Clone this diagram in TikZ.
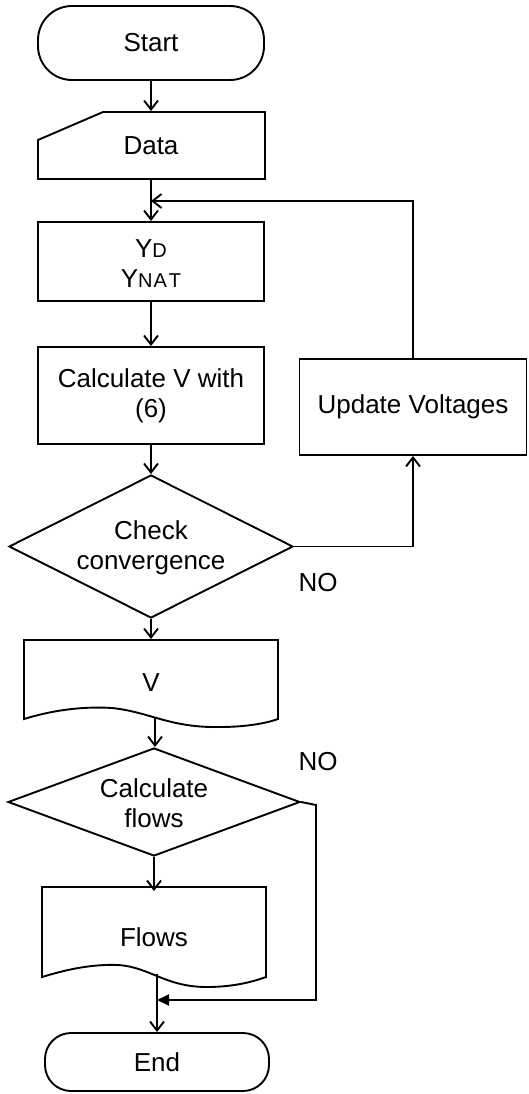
\documentclass[tikz,border=0pt]{standalone}
\usepackage{fontspec}
\setmainfont{Liberation Sans}
\usetikzlibrary{arrows.meta,shapes.geometric}
\begin{document}
\begin{tikzpicture}[x=1pt,y=-1pt,line width=1.9pt,line join=miter,
  font=\fontsize{26}{30}\selectfont,
  box/.style={draw,rectangle,inner sep=0pt},
  term/.style={draw,rectangle,inner sep=0pt},
  dec/.style={draw,diamond,inner sep=0pt},
  txt/.style={align=center,inner sep=0pt},
  arr/.style={-{Straight Barb[length=9pt,width=14pt]}},
  tri/.style={-{Triangle[length=12pt,width=11pt]}}]
\useasboundingbox (0,0) rectangle (528,1094);
% Start
\node[term,rounded corners=34pt,minimum width=226pt,minimum height=74pt] (start) at (151,43) {Start};
% Data (manual input)
\draw (38,140) -- (103,112) -- (265,112) -- (265,179) -- (38,179) -- cycle;
\node[txt,minimum width=227pt,minimum height=67pt] (data) at (151,145.5) {Data};
% Yd box
\node[box,minimum width=226pt,minimum height=79pt] (yd) at (151,261.5) {};
\node[txt] (ydt) at (151,264) {Y{\fontsize{20}{30}\selectfont D}\\Y{\fontsize{20}{30}\selectfont N\kern1pt A\kern2pt T}};
% Calculate box
\node[box,minimum width=226pt,minimum height=97pt] (calc) at (151,395.5) {};
\node[txt] (calct) at (151,396) {Calculate V with\\(6)};
% Update Voltages
\node[box,minimum width=227pt,minimum height=96pt] (upd) at (413,407) {Update Voltages};
% Decision 1
\node[dec,minimum width=284pt,minimum height=143pt] (d1) at (151,546.5) {};
\node[txt] (d1t) at (151,548) {Check\\convergence};
\node[txt] (no1) at (318,583) {NO};
% V document
\draw (24,640) -- (24,719) .. controls (50,711) and (80,706) .. (112,708)
  .. controls (150,712) and (170,728) .. (220,727)
  .. controls (250,727) and (270,722) .. (278,719) -- (278,640) -- cycle;
\node[txt,minimum width=254pt,minimum height=86pt] (v) at (151,683) {V};
\coordinate (vb) at (155,717);
% Decision 2
\node[dec,minimum width=292pt,minimum height=108pt] (d2) at (154,802) {};
\node[txt] (d2t) at (154,803) {Calculate\\flows};
\node[txt] (no2) at (318,762) {NO};
% Flows document
\draw (42,887) -- (42,977) .. controls (65,970) and (90,964) .. (118,965)
  .. controls (150,967) and (165,987) .. (207,987)
  .. controls (235,987) and (255,981) .. (266,977) -- (266,887) -- cycle;
\node[txt,minimum width=224pt,minimum height=90pt] (flows) at (154,937) {Flows};
\coordinate (fb) at (157,974);
% End
\node[term,rounded corners=26pt,minimum width=224pt,minimum height=58pt] (end) at (157,1062) {End};
% connectors
\coordinate (fbk) at (151,201);
\coordinate (join) at (157,1000);
\coordinate (bend2) at (316,805);
\draw[arr] (start.south) -- (data.north);
\draw[arr] (data.south) -- (yd.north);
\draw[arr] (yd.south) -- (calc.north);
\draw[arr] (calc.south) -- (d1.north);
\draw[arr] (d1.south) -- (v.north);
\draw[arr] (vb) -- (vb |- d2.north);
\draw[arr] (d2.south) -- (d2.south |- flows.north);
\draw[arr] (fb) -- (fb |- end.north);
\draw[arr] (d1.east) -| (upd.south);
\draw[arr] (upd.north) |- (fbk);
\draw[tri] (d2.east) -- (bend2) |- (join);
\end{tikzpicture}
\end{document}
